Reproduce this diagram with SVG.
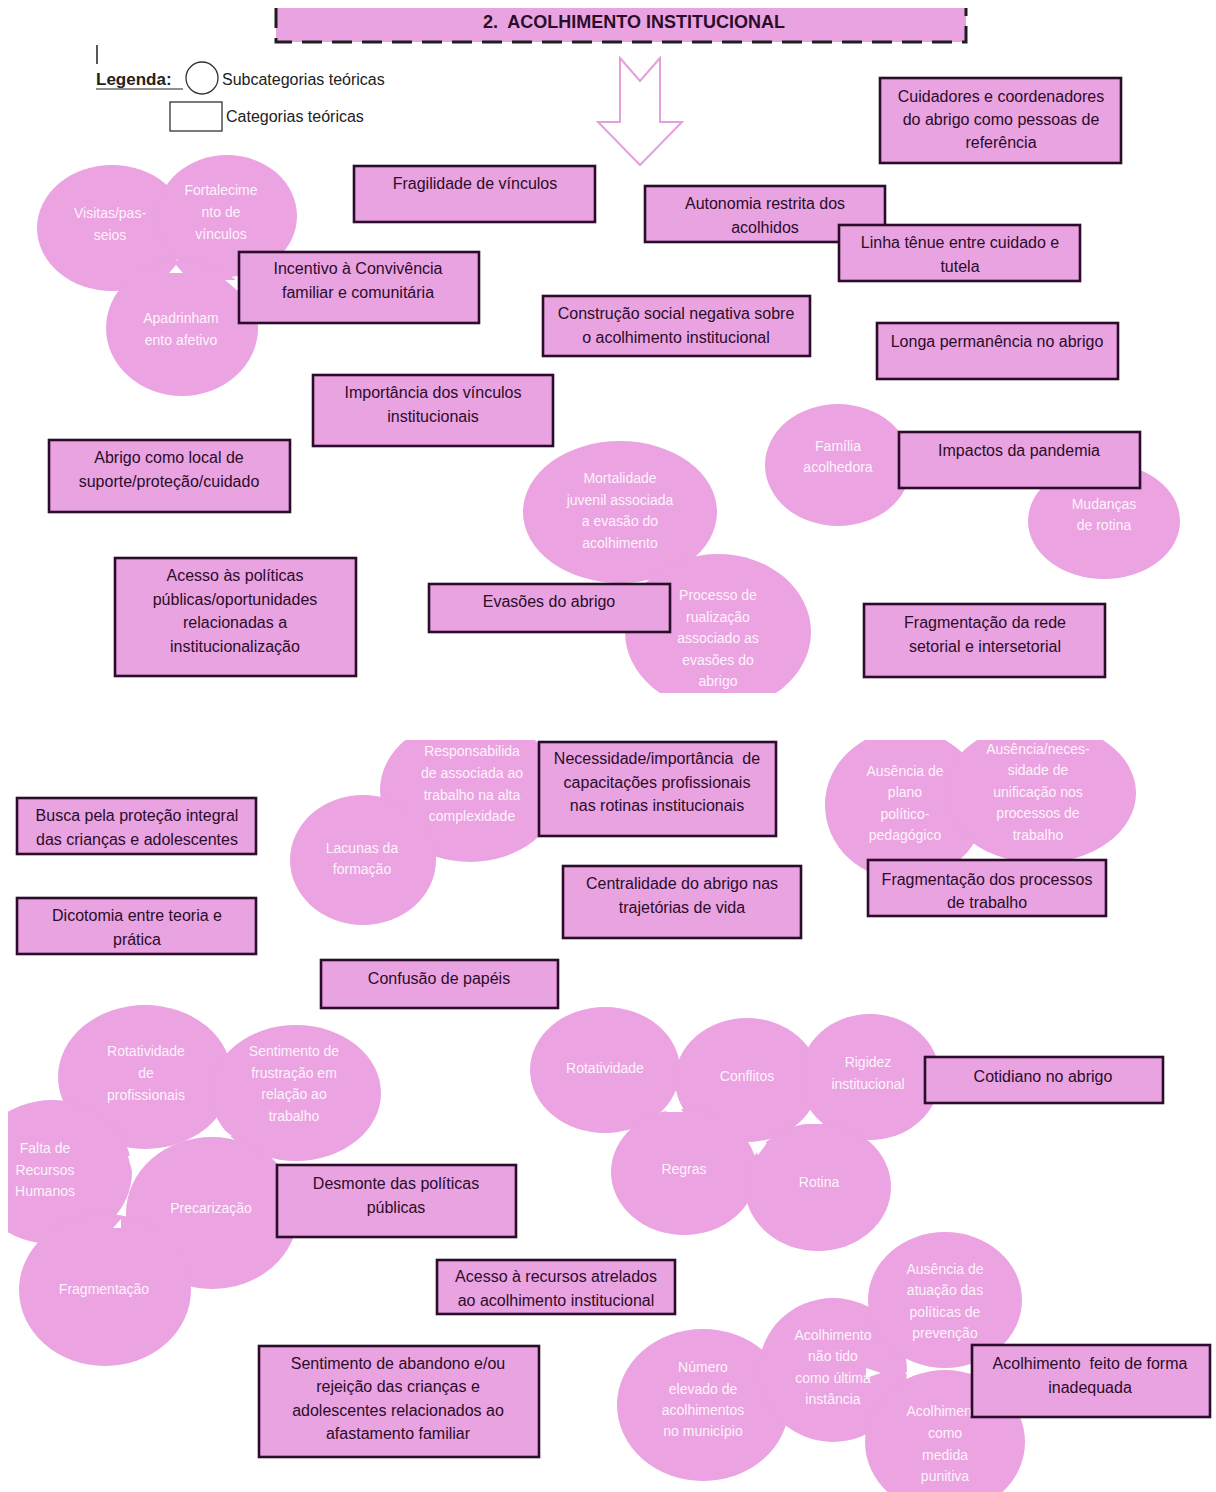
<svg xmlns="http://www.w3.org/2000/svg" width="1216" height="1492" viewBox="0 0 1216 1492">
<style>
.bx{fill:#E9A3E0;stroke:#2b0c2b;stroke-width:2.6}
.ci{fill:#EBA3E1}
.t{font-family:"Liberation Sans",Arial,sans-serif;font-size:16px;fill:#2b0c2b;text-anchor:middle;white-space:pre}
.w{font-family:"Liberation Sans",Arial,sans-serif;font-size:14px;fill:#fdf3fc;text-anchor:middle}
.lg{font-family:"Liberation Sans",Arial,sans-serif;font-size:16px;fill:#222}
.tri{fill:#ffffff}
</style>
<defs>
<clipPath id="topPanel"><rect x="0" y="0" width="1216" height="693"/></clipPath>
<clipPath id="botPanel"><rect x="8" y="740" width="1208" height="752"/></clipPath>
</defs>
<rect width="1216" height="1492" fill="#ffffff"/>

<g id="title">
<rect x="276" y="8" width="690" height="34" fill="#E9A3E0"/>
<path d="M276,8 V42 H966 V8" fill="none" stroke="#1e1e1e" stroke-width="3" stroke-dasharray="20,10"/>
<text x="634" y="28" class="t" style="font-weight:bold;font-size:18px">2.  ACOLHIMENTO INSTITUCIONAL</text>
</g>

<g id="legend">
<line x1="97" y1="45" x2="97" y2="64" stroke="#222" stroke-width="1.5"/>
<text x="96" y="85" class="lg" style="font-size:17px;font-weight:bold">Legenda:</text>
<line x1="96" y1="89" x2="183" y2="89" stroke="#222" stroke-width="1.2"/>
<circle cx="202" cy="78" r="16" fill="#fff" stroke="#333" stroke-width="1.3"/>
<text x="222" y="85" class="lg">Subcategorias teóricas</text>
<rect x="170" y="102" width="52" height="29" fill="#fff" stroke="#333" stroke-width="1.3"/>
<text x="226" y="122" class="lg">Categorias teóricas</text>
</g>

<g id="connectors">
<path d="M620,58 L640,81 L660,58 L660,122 L682,122 L640,165 L598,122 L620,122 Z" fill="#ffffff" stroke="#E3A0DA" stroke-width="2"/>
</g>

<g clip-path="url(#topPanel)">
<g id="cluster-vinculos">
<ellipse class="ci" cx="112" cy="228" rx="75" ry="63"/>
<ellipse class="ci" cx="227" cy="216" rx="70" ry="61"/>
<ellipse class="ci" cx="182" cy="328" rx="76" ry="68"/>
<polygon class="tri" points="169,273 176,265 183,273"/>
<polygon class="tri" points="225,280 240,280 238,291"/>
<g id="visitas"><text class="w" x="110" y="218">Visitas/pas-</text><text class="w" x="110" y="240">seios</text></g>
<g id="fortalecimento"><text class="w" x="221" y="195">Fortalecime</text><text class="w" x="221" y="217">nto de</text><text class="w" x="221" y="239">vínculos</text></g>
<g id="apadrinhamento"><text class="w" x="181" y="323">Apadrinham</text><text class="w" x="181" y="345">ento afetivo</text></g>
</g>

<g id="cluster-evasoes">
<ellipse class="ci" cx="620" cy="512" rx="97" ry="71"/>
<ellipse class="ci" cx="718" cy="632" rx="93" ry="78"/>
<g id="mortalidade"><text class="w" x="620" y="483">Mortalidade</text><text class="w" x="620" y="505">juvenil associada</text><text class="w" x="620" y="526">a evasão do</text><text class="w" x="620" y="548">acolhimento</text></g>
<g id="rualizacao"><text class="w" x="718" y="600">Processo de</text><text class="w" x="718" y="622">rualização</text><text class="w" x="718" y="643">associado as</text><text class="w" x="718" y="665">evasões do</text><text class="w" x="718" y="686">abrigo</text></g>
</g>

<g id="cluster-pandemia">
<ellipse class="ci" cx="838" cy="465" rx="73" ry="61"/>
<ellipse class="ci" cx="1104" cy="521" rx="76" ry="58"/>
<g id="familia"><text class="w" x="838" y="451">Família</text><text class="w" x="838" y="472">acolhedora</text></g>
<g id="mudancas"><text class="w" x="1104" y="509">Mudanças</text><text class="w" x="1104" y="530">de rotina</text></g>
</g>
</g>

<g id="cuidadores"><rect class="bx" x="880" y="78" width="241" height="85"/><text class="t" x="1001" y="102">Cuidadores e coordenadores</text><text class="t" x="1001" y="125">do abrigo como pessoas de</text><text class="t" x="1001" y="148">referência</text></g>
<g id="fragilidade"><rect class="bx" x="354" y="166" width="241" height="56"/><text class="t" x="475" y="189">Fragilidade de vínculos</text></g>
<g id="autonomia"><rect class="bx" x="645" y="186" width="240" height="56"/><text class="t" x="765" y="209">Autonomia restrita dos</text><text class="t" x="765" y="233">acolhidos</text></g>
<g id="linha"><rect class="bx" x="839" y="225" width="241" height="56"/><text class="t" x="960" y="248">Linha tênue entre cuidado e</text><text class="t" x="960" y="272">tutela</text></g>
<g id="incentivo"><rect class="bx" x="239" y="252" width="240" height="71"/><text class="t" x="358" y="274">Incentivo à Convivência</text><text class="t" x="358" y="298">familiar e comunitária</text></g>
<g id="construcao"><rect class="bx" x="543" y="296" width="267" height="60"/><text class="t" x="676" y="319">Construção social negativa sobre</text><text class="t" x="676" y="343">o acolhimento institucional</text></g>
<g id="longa"><rect class="bx" x="877" y="323" width="241" height="56"/><text class="t" x="997" y="347">Longa permanência no abrigo</text></g>
<g id="importancia"><rect class="bx" x="313" y="375" width="240" height="71"/><text class="t" x="433" y="398">Importância dos vínculos</text><text class="t" x="433" y="422">institucionais</text></g>
<g id="abrigo-local"><rect class="bx" x="49" y="440" width="241" height="72"/><text class="t" x="169" y="463">Abrigo como local de</text><text class="t" x="169" y="487">suporte/proteção/cuidado</text></g>
<g id="impactos"><rect class="bx" x="899" y="432" width="241" height="56"/><text class="t" x="1019" y="456">Impactos da pandemia</text></g>
<g id="acesso-politicas"><rect class="bx" x="115" y="558" width="241" height="118"/><text class="t" x="235" y="581">Acesso às políticas</text><text class="t" x="235" y="605">públicas/oportunidades</text><text class="t" x="235" y="628">relacionadas a</text><text class="t" x="235" y="652">institucionalização</text></g>
<g id="evasoes"><rect class="bx" x="429" y="584" width="241" height="48"/><text class="t" x="549" y="607">Evasões do abrigo</text></g>
<g id="fragmentacao-rede"><rect class="bx" x="864" y="604" width="241" height="73"/><text class="t" x="985" y="628">Fragmentação da rede</text><text class="t" x="985" y="652">setorial e intersetorial</text></g>

<g clip-path="url(#botPanel)">
<g id="cluster-capacitacao">
<ellipse class="ci" cx="470" cy="790" rx="90" ry="72"/>
<ellipse class="ci" cx="363" cy="860" rx="73" ry="65"/>
<g id="responsabilidade"><text class="w" x="472" y="756">Responsabilida</text><text class="w" x="472" y="778">de associada ao</text><text class="w" x="472" y="800">trabalho na alta</text><text class="w" x="472" y="821">complexidade</text></g>
<g id="lacunas"><text class="w" x="362" y="853">Lacunas da</text><text class="w" x="362" y="874">formação</text></g>
</g>

<g id="cluster-processos">
<ellipse class="ci" cx="905" cy="805" rx="80" ry="75"/>
<ellipse class="ci" cx="1040" cy="793" rx="96" ry="70"/>
<g id="ausencia-plano"><text class="w" x="905" y="776">Ausência de</text><text class="w" x="905" y="797">plano</text><text class="w" x="905" y="819">político-</text><text class="w" x="905" y="840">pedagógico</text></g>
<g id="ausencia-unificacao"><text class="w" x="1038" y="754">Ausência/neces-</text><text class="w" x="1038" y="775">sidade de</text><text class="w" x="1038" y="797">unificação nos</text><text class="w" x="1038" y="818">processos de</text><text class="w" x="1038" y="840">trabalho</text></g>
</g>

<g id="cluster-desmonte">
<ellipse class="ci" cx="145" cy="1077" rx="87" ry="72"/>
<ellipse class="ci" cx="296" cy="1093" rx="85" ry="68"/>
<ellipse class="ci" cx="52" cy="1172" rx="80" ry="72"/>
<ellipse class="ci" cx="212" cy="1213" rx="86" ry="76"/>
<ellipse class="ci" cx="105" cy="1290" rx="86" ry="76"/>
<polygon class="tri" points="200,1136 216,1124 232,1136"/>
<polygon class="tri" points="128,1156 155,1151 133,1175"/>
<polygon class="tri" points="113,1228 121,1219 121,1228"/>
<g id="rotatividade-prof"><text class="w" x="146" y="1056">Rotatividade</text><text class="w" x="146" y="1078">de</text><text class="w" x="146" y="1100">profissionais</text></g>
<g id="frustracao"><text class="w" x="294" y="1056">Sentimento de</text><text class="w" x="294" y="1078">frustração em</text><text class="w" x="294" y="1099">relação ao</text><text class="w" x="294" y="1121">trabalho</text></g>
<g id="falta-rh"><text class="w" x="45" y="1153">Falta de</text><text class="w" x="45" y="1175">Recursos</text><text class="w" x="45" y="1196">Humanos</text></g>
<g id="precarizacao"><text class="w" x="211" y="1213">Precarização</text></g>
<g id="fragmentacao"><text class="w" x="104" y="1294">Fragmentação</text></g>
</g>

<g id="cluster-cotidiano">
<ellipse class="ci" cx="605" cy="1070" rx="75" ry="63"/>
<ellipse class="ci" cx="747" cy="1080" rx="72" ry="62"/>
<ellipse class="ci" cx="870" cy="1077" rx="70" ry="63"/>
<ellipse class="ci" cx="684" cy="1172" rx="73" ry="63"/>
<ellipse class="ci" cx="818" cy="1187" rx="73" ry="64"/>
<polygon class="tri" points="666,1112 675,1100 683,1112"/>
<polygon class="tri" points="801,1124 812,1115 823,1124"/>
<polygon class="tri" points="751,1143 767,1143 758,1155"/>
<g id="rotatividade"><text class="w" x="605" y="1073">Rotatividade</text></g>
<g id="conflitos"><text class="w" x="747" y="1081">Conflitos</text></g>
<g id="rigidez"><text class="w" x="868" y="1067">Rigidez</text><text class="w" x="868" y="1089">institucional</text></g>
<g id="regras"><text class="w" x="684" y="1174">Regras</text></g>
<g id="rotina"><text class="w" x="819" y="1187">Rotina</text></g>
</g>

<g id="cluster-inadequado">
<ellipse class="ci" cx="703" cy="1405" rx="86" ry="76"/>
<ellipse class="ci" cx="833" cy="1370" rx="74" ry="72"/>
<ellipse class="ci" cx="945" cy="1300" rx="77" ry="68"/>
<ellipse class="ci" cx="945" cy="1442" rx="80" ry="72"/>
<polygon class="tri" points="866,1368 881,1373 866,1378"/>
<polygon class="tri" points="905,1373 912,1369 912,1377"/>
<g id="numero-elevado"><text class="w" x="703" y="1372">Número</text><text class="w" x="703" y="1394">elevado de</text><text class="w" x="703" y="1415">acolhimentos</text><text class="w" x="703" y="1436">no município</text></g>
<g id="nao-ultima"><text class="w" x="833" y="1340">Acolhimento</text><text class="w" x="833" y="1361">não tido</text><text class="w" x="833" y="1383">como última</text><text class="w" x="833" y="1404">instância</text></g>
<g id="ausencia-prevencao"><text class="w" x="945" y="1274">Ausência de</text><text class="w" x="945" y="1295">atuação das</text><text class="w" x="945" y="1317">políticas de</text><text class="w" x="945" y="1338">prevenção</text></g>
<g id="punitiva"><text class="w" x="945" y="1416">Acolhimento</text><text class="w" x="945" y="1438">como</text><text class="w" x="945" y="1460">medida</text><text class="w" x="945" y="1481">punitiva</text></g>
</g>
</g>

<g id="busca"><rect class="bx" x="17" y="798" width="239" height="56"/><text class="t" x="137" y="821">Busca pela proteção integral</text><text class="t" x="137" y="845">das crianças e adolescentes</text></g>
<g id="necessidade"><rect class="bx" x="539" y="742" width="237" height="94"/><text class="t" x="657" y="764">Necessidade/importância  de</text><text class="t" x="657" y="788">capacitações profissionais</text><text class="t" x="657" y="811">nas rotinas institucionais</text></g>
<g id="centralidade"><rect class="bx" x="563" y="866" width="238" height="72"/><text class="t" x="682" y="889">Centralidade do abrigo nas</text><text class="t" x="682" y="913">trajetórias de vida</text></g>
<g id="fragmentacao-processos"><rect class="bx" x="868" y="860" width="238" height="56"/><text class="t" x="987" y="885">Fragmentação dos processos</text><text class="t" x="987" y="908">de trabalho</text></g>
<g id="dicotomia"><rect class="bx" x="17" y="898" width="239" height="56"/><text class="t" x="137" y="921">Dicotomia entre teoria e</text><text class="t" x="137" y="945">prática</text></g>
<g id="confusao"><rect class="bx" x="321" y="960" width="237" height="48"/><text class="t" x="439" y="984">Confusão de papéis</text></g>
<g id="cotidiano"><rect class="bx" x="925" y="1057" width="238" height="46"/><text class="t" x="1043" y="1082">Cotidiano no abrigo</text></g>
<g id="desmonte"><rect class="bx" x="277" y="1165" width="239" height="72"/><text class="t" x="396" y="1189">Desmonte das políticas</text><text class="t" x="396" y="1213">públicas</text></g>
<g id="acesso-recursos"><rect class="bx" x="437" y="1260" width="238" height="54"/><text class="t" x="556" y="1282">Acesso à recursos atrelados</text><text class="t" x="556" y="1306">ao acolhimento institucional</text></g>
<g id="abandono"><rect class="bx" x="259" y="1346" width="280" height="111"/><text class="t" x="398" y="1369">Sentimento de abandono e/ou</text><text class="t" x="398" y="1392">rejeição das crianças e</text><text class="t" x="398" y="1416">adolescentes relacionados ao</text><text class="t" x="398" y="1439">afastamento familiar</text></g>
<g id="inadequada"><rect class="bx" x="972" y="1345" width="238" height="72"/><text class="t" x="1090" y="1369">Acolhimento  feito de forma</text><text class="t" x="1090" y="1393">inadequada</text></g>
</svg>
